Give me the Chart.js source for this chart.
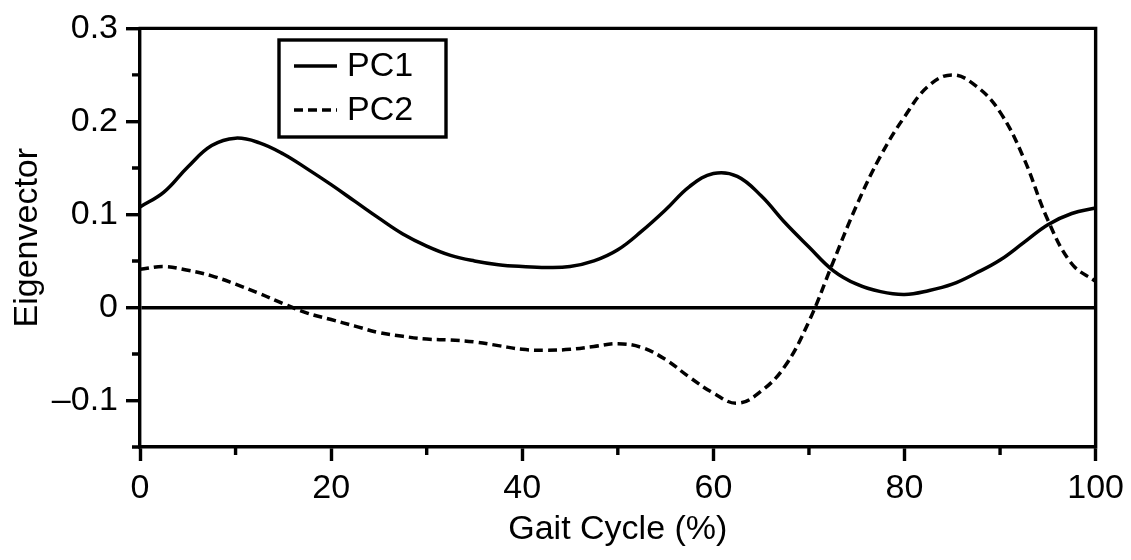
<!DOCTYPE html>
<html>
<head>
<meta charset="utf-8">
<script src="https://cdn.jsdelivr.net/npm/chart.js@4/dist/chart.umd.min.js"></script>
<style>
  html, body { margin: 0; padding: 0; background: #fff; }
</style>
</head>
<body>
<canvas id="chart" width="1131" height="560"></canvas>
<script>
// gait cycle (%) sampled every 2.5%
let gaitCycle = [0, 2.5, 5, 7.5, 10, 12.5, 15, 17.5, 20, 22.5, 25, 27.5, 30, 32.5, 35, 37.5, 40,
    42.5, 45, 47.5, 50, 52.5, 55, 57.5, 60, 62.5, 65, 67.5, 70, 72.5, 75, 77.5, 80,
    82.5, 85, 87.5, 90, 92.5, 95, 97.5, 100];
let pc1 = [0.108, 0.124, 0.151, 0.174, 0.182, 0.177, 0.165, 0.149, 0.132, 0.114, 0.096, 0.079, 0.066,
    0.056, 0.050, 0.046, 0.044, 0.043, 0.044, 0.050, 0.062, 0.082, 0.105, 0.130, 0.144, 0.141,
    0.120, 0.091, 0.065, 0.040, 0.025, 0.017, 0.014, 0.018, 0.025, 0.037, 0.051, 0.070, 0.089,
    0.101, 0.107];
let pc2 = [0.041, 0.044, 0.040, 0.034, 0.025, 0.015, 0.004, -0.006, -0.013, -0.020, -0.027, -0.031,
    -0.034, -0.035, -0.037, -0.041, -0.045, -0.046, -0.045, -0.042, -0.039, -0.043, -0.056,
    -0.075, -0.092, -0.103, -0.090, -0.063, -0.015, 0.048, 0.110, 0.163, 0.205, 0.238, 0.250,
    0.238, 0.210, 0.160, 0.094, 0.047, 0.028];
let seriesNames = ['PC1', 'PC2'];
let xTicks = [0, 20, 40, 60, 80, 100];
let xMinorTicks = [10, 30, 50, 70, 90];
let yTicks = [-0.1, 0, 0.1, 0.2, 0.3];
let yMinorTicks = [-0.15, -0.05, 0.05, 0.15, 0.25];

let fontFamily = '"Liberation Sans", Arial, Helvetica, sans-serif';
let fontSize = 34;
Chart.defaults.font.family = fontFamily;
Chart.defaults.color = '#000';

function toPoints(values) {
    return gaitCycle.map((x, i) => ({ x: x, y: values[i] }));
}

function yLabel(v) {
    if (Math.abs(v) < 1e-9) return '0';
    if (v < 0) return '\u2013' + Math.abs(v).toFixed(1);
    return v.toFixed(1);
}

// frame on top/right, minor ticks and the boxed legend
let extras = {
    id: 'extras',
    afterDraw(chart) {
        let ctx = chart.ctx;
        let area = chart.chartArea;
        let xs = chart.scales.x;
        let ys = chart.scales.y;
        ctx.save();
        ctx.strokeStyle = '#000';
        ctx.lineWidth = 3.4;
        ctx.beginPath();
        ctx.moveTo(area.left - 1.5, area.top);
        ctx.lineTo(area.right, area.top);
        ctx.lineTo(area.right, area.bottom + 1.5);
        ctx.stroke();

        ctx.beginPath();
        xMinorTicks.forEach(v => {
            let px = xs.getPixelForValue(v);
            ctx.moveTo(px, area.bottom);
            ctx.lineTo(px, area.bottom + 8);
        });
        yMinorTicks.forEach(v => {
            let py = ys.getPixelForValue(v);
            ctx.moveTo(area.left, py);
            ctx.lineTo(area.left - 8, py);
        });
        ctx.stroke();

        // legend
        ctx.strokeRect(279, 40, 167, 97);
        ctx.font = fontSize + 'px ' + fontFamily;
        ctx.textBaseline = 'middle';
        ctx.fillStyle = '#000';
        chart.data.datasets.forEach((ds, i) => {
            let ly = 66 + i * 44;
            ctx.setLineDash(ds.borderDash || []);
            ctx.beginPath();
            ctx.moveTo(294, ly);
            ctx.lineTo(337, ly);
            ctx.stroke();
            ctx.setLineDash([]);
            ctx.fillText(ds.label, 347, ly + 1);
        });
        ctx.restore();
    }
};

let chart = new Chart(document.getElementById('chart').getContext('2d'), {
    type: 'line',
    data: {
        datasets: [{
            label: seriesNames[0],
            data: toPoints(pc1),
            borderColor: '#000',
            borderWidth: 3.5,
            pointRadius: 0,
            tension: 0.4,
            fill: false
        }, {
            label: seriesNames[1],
            data: toPoints(pc2),
            borderColor: '#000',
            borderWidth: 3.5,
            borderDash: [9, 5],
            pointRadius: 0,
            tension: 0.4,
            fill: false
        }]
    },
    options: {
        responsive: false,
        animation: false,
        devicePixelRatio: 1,
        layout: { padding: { top: 26, right: 35, left: 0, bottom: 0 } },
        plugins: {
            legend: { display: false },
            tooltip: { enabled: false }
        },
        scales: {
            x: {
                type: 'linear',
                min: 0,
                max: 100,
                afterBuildTicks: s => { s.ticks = xTicks.map(v => ({ value: v })); },
                afterFit: s => { s.height = 113; },
                border: { display: true, color: '#000', width: 3.4 },
                grid: {
                    drawOnChartArea: false,
                    drawTicks: true,
                    tickLength: 14,
                    tickWidth: 3.4,
                    tickColor: '#000'
                },
                ticks: {
                    font: { size: fontSize },
                    color: '#000',
                    padding: 7,
                    maxRotation: 0
                },
                title: {
                    display: true,
                    text: 'Gait Cycle (%)',
                    font: { size: fontSize },
                    color: '#000',
                    padding: { top: 0, bottom: 10 }
                }
            },
            y: {
                min: -0.15,
                max: 0.3,
                afterBuildTicks: s => { s.ticks = yTicks.map(v => ({ value: v })); },
                afterFit: s => { s.width = 140; },
                border: { display: true, color: '#000', width: 3.4 },
                grid: {
                    drawOnChartArea: true,
                    color: c => (c.tick && Math.abs(c.tick.value) < 1e-9) ? '#000' : 'rgba(0,0,0,0)',
                    lineWidth: 3.4,
                    drawTicks: true,
                    tickLength: 14,
                    tickWidth: 3.4,
                    tickColor: '#000'
                },
                ticks: {
                    font: { size: fontSize },
                    color: '#000',
                    padding: 8,
                    callback: v => yLabel(v)
                },
                title: {
                    display: true,
                    text: 'Eigenvector',
                    font: { size: fontSize },
                    color: '#000',
                    padding: { top: 7, bottom: 0 }
                }
            }
        }
    },
    plugins: [extras]
});
</script>
</body>
</html>
